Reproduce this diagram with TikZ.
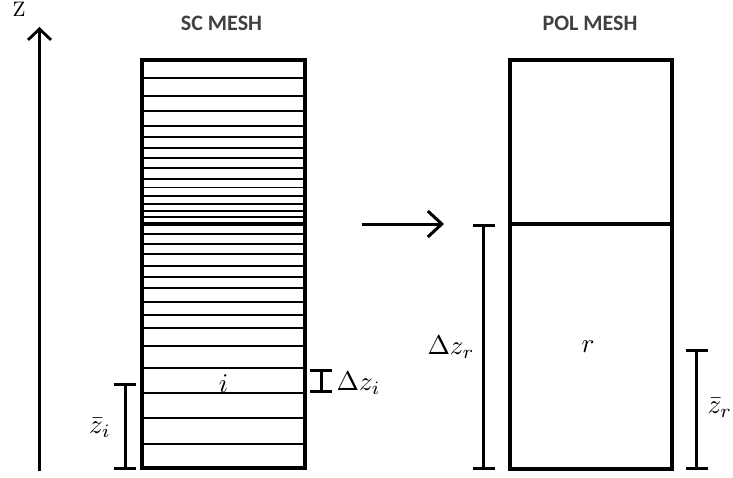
\documentclass[tikz,border=0pt]{standalone}
\usepackage{fontspec}
\newfontfamily\headfont{Carlito}
\usetikzlibrary{arrows.meta}
\definecolor{headgray}{HTML}{404040}
\tikzset{
  meshbox/.style={draw=black, line width=4pt, rectangle, inner sep=0pt, outer sep=0pt},
  cellline/.style={line width=1.4pt},
  splitline/.style={line width=4pt},
  dimline/.style={line width=3pt, {Bar[width=22pt,line width=3pt]}-{Bar[width=22pt,line width=3pt]}},
  mathlbl/.style={inner sep=0pt, scale=2.7},
  headlbl/.style={inner sep=0pt, text=headgray, font=\headfont\bfseries\fontsize{22}{24}\selectfont},
  mainarrow/.style={line width=3pt, -{Straight Barb[length=14pt,width=26pt,line width=3pt]}}
}
\begin{document}
\begin{tikzpicture}[x=1pt,y=-1pt]
\useasboundingbox (0,0) rectangle (733,477);
% headings
\node[headlbl] (schead) at (221.5,23) {SC MESH};
\node[headlbl] (polhead) at (590,23) {POL MESH};
% z axis
\node[inner sep=0pt, scale=2.1] (zlbl) at (19,9) {Z};
\coordinate (zbot) at (39.5,471);
\coordinate (ztop) at (39.5,27);
\draw[mainarrow, line width=2.6pt, -{Straight Barb[length=11pt,width=23pt,line width=2.8pt]}] (zbot) -- (ztop);
% SC mesh
\node[meshbox, minimum width=163pt, minimum height=408pt] (sc) at (223.5,264) {};
\foreach \yy in {78,96,111,126,137,148,158,168,179,187.5,196,204,211,217,234,244,254,266,277,288,302,315,328,346,368,393,418,444}
  \draw[cellline] (142,\yy) -- (305,\yy);
\draw[splitline] (142,223.5) -- (305,223.5);
\node[mathlbl] (ilbl) at (223.5,384) {$i$};
% POL mesh
\node[meshbox, minimum width=162.5pt, minimum height=408.5pt] (pol) at (590.75,264.25) {};
\draw[splitline] (pol.west |- 0,224) -- (pol.east |- 0,224);
\node[mathlbl] (rlbl) at (588,347) {$r$};
% arrow between meshes
\coordinate (astart) at (362,224);
\coordinate (aend) at (444,224);
\draw[mainarrow] (astart) -- (aend);
% dimension brackets
\coordinate (zib) at (125,470);
\coordinate (zit) at (125,382.5);
\draw[dimline] (zib) -- (zit);
\node[mathlbl] (zilbl) at (100,428) {$\bar{z}_i$};
\coordinate (dit) at (321,369);
\coordinate (dib) at (321,393);
\draw[dimline] (dit) -- (dib);
\node[mathlbl, anchor=west] (dilbl) at (336,383) {$\Delta z_i$};
\coordinate (drt) at (483.5,224);
\coordinate (drb) at (483.5,470);
\draw[dimline] (drt) -- (drb);
\node[mathlbl] (drlbl) at (451,347) {$\Delta z_r$};
\coordinate (zrt) at (696.5,349);
\coordinate (zrb) at (696.5,470);
\draw[dimline] (zrt) -- (zrb);
\node[mathlbl, anchor=west] (zrlbl) at (707,408) {$\bar{z}_r$};
\end{tikzpicture}
\end{document}
